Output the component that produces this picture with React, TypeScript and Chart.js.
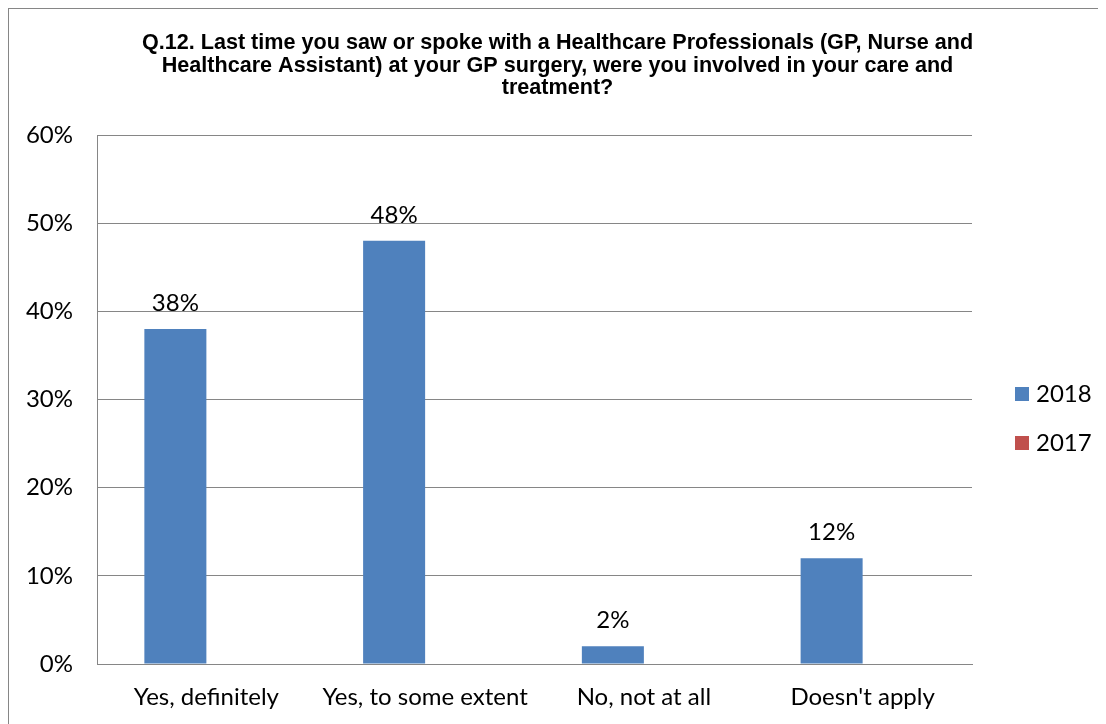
import React, { useEffect, useRef } from "react";
import { Chart, registerables } from "chart.js";

Chart.register(...registerables);

const categories = ["Yes, definitely", "Yes, to some extent", "No, not at all", "Doesn't apply"];
const values2018 = [38, 48, 2, 12];
const values2017: (number | null)[] = [null, null, null, null];
const seriesNames = ["2018", "2017"];
const seriesColors = ["#4F81BD", "#C0504D"];
const titleLines = [
  "Q.12. Last time you saw or spoke with a Healthcare Professionals (GP, Nurse and",
  "Healthcare Assistant) at your GP surgery, were you involved in your care and",
  "treatment?",
];
const yTicksMax = 60;
const yStep = 10;

const LABEL_FONT = "Lato, 'Open Sans', sans-serif";
const GRID = "#868686";

const overlayPlugin = {
  id: "overlay",
  afterDatasetsDraw(chart: any) {
    const ctx = chart.ctx;
    ctx.save();
    const meta = chart.getDatasetMeta(0);
    ctx.fillStyle = "#000";
    ctx.font = `24px ${LABEL_FONT}`;
    ctx.textAlign = "center";
    ctx.textBaseline = "middle";
    meta.data.forEach((bar: any, i: number) => {
      const v = values2018[i];
      if (v == null) return;
      ctx.fillText(`${v}%`, bar.x, bar.y - 26);
    });
    ctx.restore();
  },
  afterDraw(chart: any) {
    const ctx = chart.ctx;
    ctx.save();
    ctx.fillStyle = "#000";
    ctx.font = "bold 21.6px 'Liberation Sans', Arial, sans-serif";
    ctx.textAlign = "center";
    ctx.textBaseline = "middle";
    const cx = chart.width / 2;
    titleLines.forEach((line, i) => {
      ctx.fillText(line, cx, 34.5 + i * 22.5);
    });
    ctx.font = `24px ${LABEL_FONT}`;
    ctx.textAlign = "left";
    seriesNames.forEach((name, i) => {
      const y = 385 + i * 49;
      ctx.fillStyle = seriesColors[i];
      ctx.fillRect(1006, y - 7, 14, 14);
      ctx.fillStyle = "#000";
      ctx.fillText(name, 1027, y);
    });
    ctx.restore();
  },
};

export default function App() {
  const ref = useRef<HTMLCanvasElement | null>(null);
  useEffect(() => {
    document.documentElement.style.overflow = "hidden";
    document.body.style.overflow = "hidden";
    if (!ref.current) return;
    const chart = new Chart(ref.current, {
      type: "bar",
      data: {
        labels: categories,
        datasets: [
          {
            label: seriesNames[0],
            data: values2018,
            backgroundColor: seriesColors[0],
            categoryPercentage: 0.567,
            barPercentage: 1,
          },
          {
            label: seriesNames[1],
            data: values2017,
            backgroundColor: seriesColors[1],
            categoryPercentage: 0.567,
            barPercentage: 1,
          },
        ],
      },
      options: {
        animation: false,
        responsive: true,
        maintainAspectRatio: false,
        layout: { padding: { top: 126, right: 134, left: 0, bottom: 0 } },
        plugins: {
          legend: { display: false },
          title: { display: false },
          tooltip: { enabled: false },
        },
        scales: {
          x: {
            grid: { display: false, drawTicks: false },
            border: { display: true, color: GRID, width: 1 },
            ticks: {
              color: "#000",
              font: { family: LABEL_FONT, size: 24 },
              padding: 19,
              maxRotation: 0,
              autoSkip: false,
            },
            afterFit(scale: any) {
              scale.height = 60;
            },
          },
          y: {
            min: 0,
            max: yTicksMax,
            grid: { color: GRID, lineWidth: 1, drawTicks: false },
            border: { display: true, color: GRID, width: 1 },
            ticks: {
              stepSize: yStep,
              color: "#000",
              font: { family: LABEL_FONT, size: 24 },
              padding: 24,
              callback: (v: any) => `${v}%`,
            },
            afterFit(scale: any) {
              scale.width = 88;
            },
          },
        },
      },
      plugins: [overlayPlugin],
    });
    return () => chart.destroy();
  }, []);

  return (
    <div
      style={{
        width: 1098,
        height: 716,
        borderLeft: `1px solid ${GRID}`,
        borderTop: `1px solid ${GRID}`,
        boxSizing: "border-box",
      }}
    >
      <div style={{ position: "relative", width: 1097, height: 715 }}>
        <canvas ref={ref} />
      </div>
    </div>
  );
}
